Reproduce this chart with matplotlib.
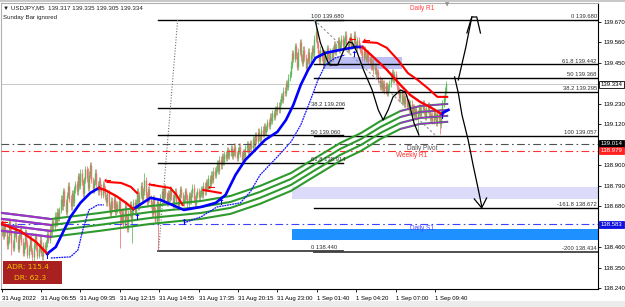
import numpy as np
import matplotlib
matplotlib.use("Agg")
import matplotlib.pyplot as plt
from matplotlib.patches import Rectangle
from matplotlib.transforms import blended_transform_factory

plt.rcParams['font.family'] = ['Liberation Sans', 'DejaVu Sans']

# USDJPY M5 closes, in pipettes above 138.000 (bar 0 = first bar on screen)
closes = [560, 520, 585, 540, 470, 500, 600, 545, 480, 455, 530, 575, 505, 450, 520, 560,
          490, 430, 470, 540, 480, 420, 455, 510, 440, 405, 470, 520, 460, 415, 450, 500, 430, 410, 470, 445,
          480, 530, 500, 560, 540, 600, 570, 630, 590, 650, 620, 660,
          720, 680, 760, 700, 650, 740, 790, 720, 680, 750, 700, 770,
          800, 760, 840, 790, 860, 810, 750, 820, 880, 830, 780, 850, 900, 820, 770, 810,
          860, 800, 760, 820, 780, 740, 800, 770, 730,
          700, 750, 680, 640, 710, 670, 720, 650, 690, 660, 710, 640,
          600, 650, 580, 680, 620, 560, 640, 690, 610, 660, 700, 650,
          700, 760, 680, 740, 790, 720, 760, 820, 740, 700, 770, 720,
          690, 640, 720, 660, 600, 700, 620, 680, 730,
          760, 710, 780, 740, 700, 750, 720, 770, 730, 690, 740, 760, 710, 680, 730, 770,
          740, 700, 720, 760, 730, 690, 740, 710, 750, 780, 720, 690, 740, 760, 730, 750,
          770, 740, 790, 760, 810, 780, 830, 800, 850, 820, 870, 850,
          880, 910, 870, 930, 900, 950, 920, 960, 940, 980, 950, 970,
          990, 950, 970, 1000, 960, 940, 980, 1000, 960, 930, 970, 950, 990, 1010, 970, 1000,
          1020, 990, 1040, 1010, 1060, 1030, 1080, 1050, 1040, 1090, 1070, 1110, 1080, 1100,
          1130, 1110, 1160, 1140, 1180, 1160, 1200, 1190, 1220, 1200, 1240,
          1270, 1250, 1300, 1290, 1340, 1320, 1370, 1390,
          1440, 1500, 1470, 1540, 1490, 1430, 1510, 1560, 1480, 1450, 1520,
          1480, 1420, 1460, 1510, 1450, 1490, 1530, 1500,
          1580, 1620, 1550,
          1500, 1460, 1520, 1480, 1440, 1500, 1470, 1530, 1490, 1450, 1510, 1480, 1520,
          1550, 1510, 1540, 1570, 1520, 1550,
          1580, 1540, 1570, 1600, 1550, 1520, 1570, 1590, 1540, 1560, 1600, 1550, 1530, 1570, 1540, 1520,
          1510, 1480, 1520, 1490, 1470, 1500,
          1460, 1470, 1430, 1450, 1410, 1430, 1390, 1400,
          1360, 1320, 1350, 1310, 1340, 1300, 1330, 1290, 1320, 1340,
          1370, 1400, 1360, 1390, 1350, 1320,
          1300, 1260, 1290, 1240, 1270, 1230, 1260, 1220,
          1240, 1200, 1230, 1180, 1210, 1170, 1200, 1160,
          1180, 1210, 1170, 1200, 1230, 1190, 1160, 1200, 1220, 1180, 1150,
          1170, 1140, 1190, 1160, 1130, 1180, 1150, 1120,
          1180, 1230, 1260, 1300, 1334]
first_open = 540
low_spikes = {8: 420, 30: 400, 96: 456, 106: 480, 127: 445, 338: 1063, 356: 1070}
high_spikes = {70: 885, 116: 860, 255: 1680}
wick = 18

time_ticks = [0, 32, 64, 96, 128, 160, 192, 224, 256, 288, 320, 352]
time_labels = ['31 Aug 2022', '31 Aug 06:55', '31 Aug 09:35', '31 Aug 12:15', '31 Aug 14:55',
               '31 Aug 17:35', '31 Aug 20:15', '31 Aug 23:00', '1 Sep 01:40', '1 Sep 04:20',
               '1 Sep 07:00', '1 Sep 09:40']
price_ticks = [138.240, 138.350, 138.460, 138.570, 138.680, 138.790, 138.900, 139.010,
               139.120, 139.230, 139.340, 139.450, 139.560, 139.670]
# scale labels hidden behind the price boxes
hidden_ticks = [138.570, 139.010, 139.340]

# trend-coloured moving averages: (bar, pipettes)
fast_up = [[(37, 425), (44, 461), (50, 542), (56, 623), (64, 698), (72, 751), (79, 778)],
           [(107, 665), (121, 725), (129, 714), (148, 660), (162, 676), (174, 698), (182, 741),
            (190, 848), (198, 929), (206, 982), (214, 1036), (224, 1079), (231, 1143), (237, 1224),
            (243, 1331), (249, 1412), (255, 1476), (263, 1503), (275, 1519), (288, 1535), (293, 1535)],
           [(357, 1176), (363, 1197)]]
fast_dn = [[(0, 585), (15, 547), (28, 488), (37, 425)],
           [(79, 778), (84, 767), (93, 735), (101, 698), (107, 665)],
           [(293, 1535), (302, 1481), (313, 1412), (324, 1331), (332, 1277), (340, 1240),
            (348, 1213), (357, 1176)]]
slow_up = [[(40, 402), (56, 408), (62, 445), (66, 553), (71, 660), (78, 687), (83, 687)],
           [(148, 590), (162, 623), (175, 676), (194, 698), (202, 757), (210, 848), (224, 945),
            (235, 1025), (243, 1116), (251, 1251), (257, 1358), (263, 1438), (271, 1476), (279, 1492)]]
slow_dn = [[(86, 810), (97, 805), (105, 784), (110, 751)],
           [(122, 794), (137, 778), (142, 741), (147, 687)],
           [(164, 767), (178, 751)],
           [(294, 1562), (305, 1557), (313, 1530), (322, 1465), (330, 1395), (338, 1358),
            (346, 1315), (354, 1267), (362, 1267)]]
band_mid = [(0, 596), (20, 580), (40, 563), (80, 596), (121, 633), (162, 660), (186, 687),
            (210, 741), (235, 810), (251, 875), (275, 971), (292, 1025), (308, 1090),
            (324, 1143), (340, 1170), (362, 1181)]
band_offsets = [-48, -16, 16, 48]
up_arrows = [(37, 408), (110, 622), (148, 590), (178, 698), (286, 1492), (358, 1159)]
dn_arrows = [(2, 590), (86, 816), (122, 794), (170, 778), (285, 1573), (296, 1567)]

# hand drawn objects
zigzag = [(255, 1669), (259, 1557), (265, 1455), (267, 1438), (273, 1438), (278, 1519), (282, 1562),
          (285, 1557), (289, 1503), (294, 1412), (301, 1304), (306, 1197), (310, 1143), (314, 1197),
          (318, 1267), (324, 1304), (328, 1293), (331, 1234), (335, 1127), (339, 1063)]
up_path = [(371, 1358), (377, 1530), (382, 1696), (386, 1696), (389, 1610)]
up_head = [(378, 1610), (382, 1696)]
dn_path = [(368, 1374), (371, 1288), (374, 1170), (379, 1036), (383, 902), (387, 778), (390, 681)]
dn_head = [(384, 719), (390, 671), (394, 724)]

left_fib_names = ['100', '38.2', '50', '61.8', '0']
left_fib_prices = [139.680, 139.206, 139.060, 138.914, 138.440]
right_fib_names = ['0', '61.8', '50', '38.2', '100', '-161.8', '-200']
right_fib_prices = [139.680, 139.442, 139.368, 139.295, 139.057, 138.672, 138.434]
pivot_names = ['Daily Pivot', 'Weekly R1', 'Daily S1']
pivot_prices = [139.014, 138.979, 138.583]
bid = 139.334
adr, dr = 115.4, 62.3


def pr(p):
    return 138 + np.asarray(p, dtype=float) / 1000


fig = plt.figure(figsize=(6.25, 3.07), dpi=100)
fig.patch.set_facecolor('white')
ax = fig.add_axes([1 / 625, 18 / 307, 597 / 625, 286 / 307])
XMAX = 484.5
ax.set_xlim(-0.5, XMAX)
ax.set_ylim(138.2355, 139.771)
bt = blended_transform_factory(ax.transAxes, ax.transData)

# zones
ax.add_patch(Rectangle((236, 138.719), XMAX - 236, 0.064, fc='#dcdcfa', ec='none', zorder=1))
ax.add_patch(Rectangle((236, 138.499), XMAX - 236, 0.059, fc='#1e90ff', ec='none', zorder=1))
ax.add_patch(Rectangle((261, 139.417), 64, 0.064, fc='#aab0f0', ec='none', alpha=0.8, zorder=1))
ax.axhline(bid, color='#c8c8c8', lw=0.7, zorder=1.5)

# candles
c = pr(closes)
o = np.r_[pr(first_open), c[:-1]]
top = np.maximum(o, c)
bot = np.minimum(o, c)
hi = top + wick / 1000
lo = bot - wick / 1000
for i, v in low_spikes.items():
    lo[i] = pr(v)
for i, v in high_spikes.items():
    hi[i] = pr(v)
x = np.arange(len(closes))
cols = np.where(c >= o, '#5cb85c', '#f07070')
ax.vlines(x, lo, hi, colors=cols, lw=0.55, zorder=2)
ax.vlines(x, bot, top, colors=cols, lw=1.0, zorder=2)

# fibonacci
for name, p in zip(left_fib_names, left_fib_prices):
    lw, col = (1.3, '#404040') if name == '0' else (1.0, 'black')
    ax.plot([127, 277], [p, p], color=col, lw=lw, zorder=3)
    ax.text(251, p + 0.004, f'{name} {p:.3f}', fontsize=4.2, color='#303030',
            ha='left', va='bottom', zorder=7)
for name, p in zip(right_fib_names, right_fib_prices):
    lw, col = (1.3, '#404040') if name == '-200' else (1.0, 'black')
    ax.plot([254, XMAX], [p, p], color=col, lw=lw, zorder=3)
    ax.text(0.998, p + 0.004, f'{name} {p:.3f}', transform=bt, fontsize=4.2, color='#303030',
            ha='right', va='bottom', zorder=7)
ax.plot([127.5, 143], [138.440, 139.680], color='#707070', lw=0.8, ls=(0, (1, 1.5)), zorder=3)
ax.plot([254, 353], [139.680, 139.057], color='#909090', lw=0.8, ls=(0, (2, 2)), zorder=3)

# pivots
piv_cols = ['#505050', '#ff3030', '#4040ff']
piv_x = [329, 320, 332]
for name, p, col, px in zip(pivot_names, pivot_prices, piv_cols, piv_x):
    ax.axhline(p, color=col, lw=0.8, ls=(0, (7, 3, 1.5, 3)), zorder=3)
    ax.text(px, p - 0.006, name, fontsize=4.7, color=col, ha='left', va='top', zorder=7)
ax.text(332, 139.744, 'Daily R1', fontsize=4.7, color='#ff4040', ha='left', va='center', zorder=7)

# envelope band
bx = [b for b, _ in band_mid]
by = [p for _, p in band_mid]
for off in band_offsets:
    ax.plot(bx, pr(np.array(by) + off), color='#2e9a2e', lw=1.5, zorder=4)
    sel = [k for k, b in enumerate(bx) if b <= 40]
    ax.plot([bx[k] for k in sel], pr([by[k] + off for k in sel]), color='#a030d0', lw=1.5, zorder=4)
    sel = [k for k, b in enumerate(bx) if b >= 324]
    ax.plot([bx[k] for k in sel], pr([by[k] + off for k in sel]), color='#a030d0', lw=1.0, zorder=4)

# moving averages
for seg in fast_up:
    ax.plot([a for a, _ in seg], pr([b for _, b in seg]), color='#0000ff', lw=1.9, zorder=5)
for seg in fast_dn:
    ax.plot([a for a, _ in seg], pr([b for _, b in seg]), color='#ff0000', lw=1.7, zorder=5)
for seg in slow_up:
    ax.plot([a for a, _ in seg], pr([b for _, b in seg]), color='#1010ff', lw=0.9,
            ls=(0, (1.5, 0.6)), zorder=5)
for seg in slow_dn:
    ax.plot([a for a, _ in seg], pr([b for _, b in seg]), color='#ff0000', lw=1.5, zorder=5)
for a, b in up_arrows:
    ax.text(a, pr(b), '↑', color='#0000ff', fontsize=6, fontweight='bold', family='DejaVu Sans',
            ha='center', va='center', zorder=6)
for a, b in dn_arrows:
    ax.text(a, pr(b), '←', color='#ff0000', fontsize=6.5, fontweight='bold', family='DejaVu Sans',
            ha='center', va='center', zorder=6)

# drawn paths
for seg in (zigzag, up_path, up_head, dn_path, dn_head):
    ax.plot([a for a, _ in seg], pr([b for _, b in seg]), color='black', lw=0.9, zorder=6)

# axes styling
ax.yaxis.tick_right()
ax.set_yticks(price_ticks)
ax.set_yticklabels(['' if p in hidden_ticks else f'{p:.3f}' for p in price_ticks])
ax.set_xticks(time_ticks)
ax.set_xticklabels(time_labels)
for lbl in ax.get_xticklabels():
    lbl.set_ha('left')
ax.tick_params(axis='both', labelsize=4.3, length=2.5, width=0.6, color='black', pad=1.5)
ax.tick_params(axis='x', pad=2.5)
for s in ('right', 'bottom'):
    ax.spines[s].set_color('black')
    ax.spines[s].set_linewidth(0.8)
for s in ('left', 'top'):
    ax.spines[s].set_color('#b0b0b0')
    ax.spines[s].set_linewidth(0.8)

# price boxes on the scale
box_items = [(bid, 'white', 'black', 'black'), (pivot_prices[0], 'black', 'black', 'white'),
             (pivot_prices[1], '#ff2020', '#ff2020', 'white'), (pivot_prices[2], '#1010e0', '#1010e0', 'white')]
for p, fc, ec, tc in box_items:
    ax.text(1.0045, p, f'{p:.3f}', transform=bt, fontsize=4.3, color=tc, ha='left', va='center',
            bbox=dict(boxstyle='square,pad=0.2', fc=fc, ec=ec, lw=0.6), clip_on=False, zorder=8)

# header texts and ADR panel
fig.text(3 / 625, 1 - 8 / 307, '▼ USDJPY,M5  139.317 139.335 139.305 139.334', fontsize=4.4,
         va='center', ha='left', color='#202020')
fig.text(3 / 625, 1 - 17 / 307, 'Sunday Bar ignored', fontsize=4.4, va='center', ha='left', color='#202020')
fig.patches.append(Rectangle((3 / 625, 1 - 284 / 307), 59 / 625, 23 / 307, fc='#a82020', ec='none',
                             transform=fig.transFigure, figure=fig))
fig.text(7 / 625, 1 - 267 / 307, f'ADR: {adr}', fontsize=5.4, family='DejaVu Sans', color='#f2c200',
         va='center', ha='left')
fig.text(14 / 625, 1 - 278.5 / 307, f'DR: {dr}', fontsize=5.4, family='DejaVu Sans', color='#f2c200',
         va='center', ha='left')
fig.patches.append(Rectangle((0, 1 - 2 / 307), 1, 2 / 307, fc='#c8c8c8', ec='none',
                             transform=fig.transFigure, figure=fig))
fig.patches.append(Rectangle((0, 0), 1, 6 / 307, fc='#ececec', ec='none',
                             transform=fig.transFigure, figure=fig))
fig.text(447 / 625, 1 - 5 / 307, '▼', fontsize=4, family='DejaVu Sans', color='#909090',
         ha='center', va='center')

fig.savefig('out.png', dpi=100)
